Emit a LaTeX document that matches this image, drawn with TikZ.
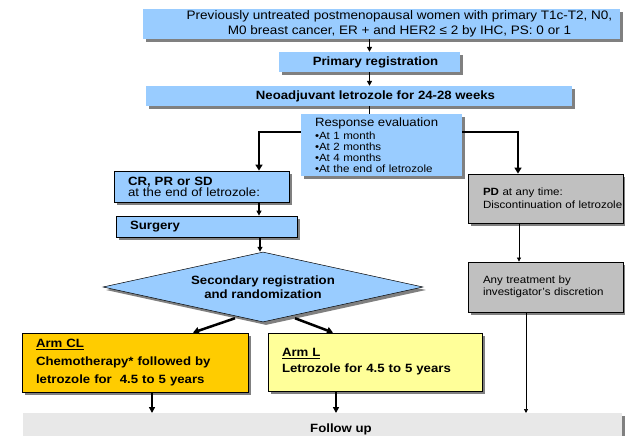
\documentclass[tikz,border=0pt]{standalone}
\usepackage{fontspec}
\setmainfont{Liberation Sans}[FakeStretch=1.1]
\usetikzlibrary{shapes.geometric,shadows,arrows.meta,calc}
\definecolor{bl}{HTML}{99CCFF}
\definecolor{orng}{HTML}{FFCC00}
\definecolor{ylw}{HTML}{FFFF99}
\definecolor{gry}{HTML}{C0C0C0}
\definecolor{lgry}{HTML}{E8E8E8}
\definecolor{shadowgray}{HTML}{808080}
\newcommand\fa{\fontsize{12}{14}\selectfont}
\newcommand\fb{\fontsize{10.5}{11}\selectfont}
\begin{document}
\begin{tikzpicture}[x=1pt,y=-1pt,
  shd/.style={drop shadow={shadow xshift=3pt,shadow yshift=-3pt,fill=shadowgray,opacity=1}},
  bx/.style={rectangle,inner sep=0pt,shd,font=\fa},
  bluebox/.style={bx,fill=bl},
  framed/.style={draw=black,line width=0.8pt},
  arr/.style={-{Triangle[length=5pt,width=5pt]},line width=1.2pt},
  marr/.style={-{Triangle[length=6pt,width=6pt]},line width=2pt},
  tarr/.style={-{Triangle[length=6pt,width=7pt]},line width=2.5pt},
  narr/.style={-{Triangle[length=4pt,width=4pt]},line width=0.7pt}]
\useasboundingbox (0,0) rectangle (625,436);
\fill[white] (0,0) rectangle (625,436);

\node[bluebox,minimum width=477pt,minimum height=30pt,align=center,font=\fontsize{12.3}{15}\selectfont] (elig) at (381.5,24)
  {\hspace*{36pt}Previously untreated postmenopausal women with primary T1c-T2, N0,\\\hspace*{36pt}M0 breast cancer, ER + and HER2 ≤ 2 by IHC, PS: 0 or 1};
\node[bluebox,minimum width=181pt,minimum height=20pt,font=\fa\bfseries] (prim) at (369.5,62) {\hspace*{12pt}Primary registration};
\node[bluebox,minimum width=426pt,minimum height=20pt,font=\fa\bfseries] (neo) at (359,96) {\hspace*{33pt}Neoadjuvant letrozole for 24-28 weeks};
\node[bluebox,minimum width=161pt,minimum height=62pt,inner xsep=14pt,text width=133pt,align=left,font=\fb] (resp) at (381.5,145)
  {{\fa Response evaluation}\\[2pt]•At 1 month\\•At 2 months\\•At 4 months\\•At the end of letrozole};
\node[bluebox,framed,minimum width=175pt,minimum height=31pt,inner xsep=14pt,text width=147pt,align=left,font=\fontsize{12}{11}\selectfont] (cr) at (201.5,186.5)
  {{\bfseries CR, PR or SD}\\at the end of letrozole:};
\node[bluebox,framed,minimum width=181pt,minimum height=21pt,inner xsep=14pt,text width=153pt,align=left,font=\fa\bfseries] (surg) at (206.5,226.5) {Surgery};
\node[diamond,aspect=4.57,shd,fill=bl,draw=black,line width=0.5pt,minimum width=320pt,minimum height=70pt,inner sep=0pt,align=center,font=\fontsize{12}{14}\selectfont\bfseries] (rand) at (263,287)
  {Secondary registration\\and randomization};
\node[bx,fill=orng,framed,minimum width=226pt,minimum height=59pt,inner xsep=14pt,text width=198pt,align=left,font=\fontsize{12}{18}\selectfont\bfseries] (cl) at (135,362.5)
  {\underline{Arm CL}\\Chemotherapy* followed by\\letrozole for\ \ 4.5 to 5 years};
\node[bx,fill=ylw,framed,minimum width=214pt,minimum height=58pt,inner xsep=14pt,text width=186pt,align=left,font=\fontsize{12}{16}\selectfont\bfseries] (al) at (375,362)
  {\underline{Arm L}\\Letrozole for 4.5 to 5 years};
\node[bx,fill=gry,framed,minimum width=155pt,minimum height=49pt,inner xsep=15pt,text width=125pt,align=left,font=\fontsize{10.5}{13}\selectfont] (pd) at (545.5,198.5)
  {\textbf{PD} at any time:\\\mbox{Discontinuation of letrozole}};
\node[bx,fill=gry,framed,minimum width=155pt,minimum height=50pt,inner xsep=15pt,text width=125pt,align=left,font=\fontsize{10.5}{11.5}\selectfont] (any) at (545.5,287)
  {Any treatment by\\\mbox{investigator’s discretion}};
\node[bx,fill=lgry,minimum width=599pt,minimum height=32pt,anchor=north,font=\fa\bfseries] (fu) at (322.5,413) {\hspace*{37pt}Follow up};

\draw[arr] (elig.south -| prim.north) -- (prim.north);
\draw[arr] (prim.south) -- (prim.south |- neo.north);
\draw[line width=1.2pt] (prim.south |- neo.south) -- (prim.south |- resp.north);
\draw[tarr] ([yshift=13pt]resp.west) -| ([xshift=57.5pt]cr.north);
\draw[tarr] ([yshift=13pt]resp.east) -| ([xshift=-27.5pt]pd.north);
\draw[arr] ([xshift=57.5pt]cr.south) -- ([xshift=52.5pt]surg.north);
\draw[arr] ([xshift=53.5pt]surg.south) -- ([xshift=-3pt]rand.north);
\draw[tarr] ([shift={(-28pt,4pt)}]rand.south) -- ([xshift=58pt]cl.north);
\draw[tarr] ([shift={(32pt,4pt)}]rand.south) -- ([xshift=-42pt]al.north);
\coordinate (c1) at ([xshift=17pt]cl.south);
\coordinate (c2) at ([xshift=-39pt]al.south);
\coordinate (c3) at ([xshift=-19.5pt]any.south);
\draw[marr] (c1) -- (c1 |- fu.north);
\draw[marr] (c2) -- (c2 |- fu.north);
\draw[narr] ([xshift=-26.5pt]pd.south) -- ([xshift=-26.5pt]any.north);
\draw[narr] (c3) -- (c3 |- fu.north);
\end{tikzpicture}
\end{document}
